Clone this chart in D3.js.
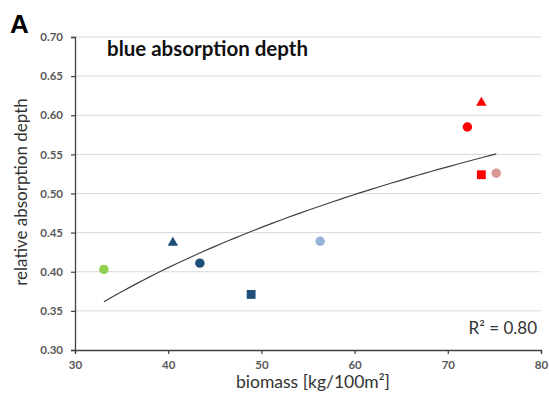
<!DOCTYPE html>
<html>
<head>
<meta charset="utf-8">
<script src="https://cdn.jsdelivr.net/npm/d3@7"></script>
<style>
  html, body { margin: 0; padding: 0; background: #fff; }
  svg { display: block; }
  text { font-family: Lato, "Open Sans", "Liberation Sans", sans-serif; }
</style>
</head>
<body>
<svg id="chart" width="549" height="396"></svg>
<script>
// Biomass per plot and relative depth of the blue absorption feature
const biomass = [33.1, 40.5, 43.4, 48.9, 56.3, 72.1, 73.6, 73.6, 75.2];
const depth   = [0.403, 0.437, 0.411, 0.371, 0.439, 0.585, 0.616, 0.524, 0.526];
const shapes  = ["circle", "triangle", "circle", "square", "circle", "circle", "triangle", "square", "circle"];
const colors  = ["#92d050", "#1f4e79", "#1f4e79", "#1f4e79", "#95b3d7", "#ff0000", "#ff0000", "#ff0000", "#d99694"];

const xTicks = [30, 40, 50, 60, 70, 80];
const yTicks = [0.30, 0.35, 0.40, 0.45, 0.50, 0.55, 0.60, 0.65, 0.70];
const rSquaredLabel = "R² = 0.80";

const svg = d3.select("#chart");
const plotLeft = 75, plotRight = 541, plotTop = 37, plotBottom = 350;

const x = d3.scaleLinear().domain([30, 80]).range([plotLeft, plotRight]);
const y = d3.scaleLinear().domain([0.30, 0.70]).range([plotBottom, plotTop]);

// horizontal gridlines
svg.append("g")
  .selectAll("line")
  .data(yTicks.slice(1))
  .join("line")
  .attr("x1", plotLeft).attr("x2", plotRight)
  .attr("y1", d => y(d)).attr("y2", d => y(d))
  .attr("stroke", "#d9d9d9").attr("stroke-width", 1);

// axes
const xAxis = svg.append("g")
  .attr("transform", `translate(0,${plotBottom})`)
  .call(d3.axisBottom(x).tickValues(xTicks).tickFormat(d3.format("d")).tickSizeOuter(0).tickSize(4).tickPadding(7));
const yAxis = svg.append("g")
  .attr("transform", `translate(${plotLeft},0)`)
  .call(d3.axisLeft(y).tickValues(yTicks).tickFormat(d3.format(".2f")).tickSizeOuter(0).tickSize(4).tickPadding(8));

[xAxis, yAxis].forEach(g => {
  g.select(".domain").attr("stroke", "#404040").attr("stroke-width", 1.3);
  g.selectAll(".tick line").attr("stroke", "#404040").attr("stroke-width", 1.2);
  g.selectAll(".tick text")
    .attr("fill", "#595959")
    .style("font-size", "11.5px")
    .style("font-weight", "bold")
    .style("font-family", "Lato, 'Open Sans', sans-serif");
});

// logarithmic least-squares trend: depth = a + b * ln(biomass)
const lx = biomass.map(Math.log);
const mx = d3.mean(lx), my = d3.mean(depth);
const b = d3.sum(lx, (v, i) => (v - mx) * (depth[i] - my)) / d3.sum(lx, v => (v - mx) * (v - mx));
const a = my - b * mx;
const [xmin, xmax] = d3.extent(biomass);
const curveXs = d3.range(0, 61).map(i => xmin + (xmax - xmin) * i / 60);
svg.append("path")
  .datum(curveXs)
  .attr("fill", "none")
  .attr("stroke", "#404040")
  .attr("stroke-width", 1.2)
  .attr("d", d3.line().x(d => x(d)).y(d => y(a + b * Math.log(d))));

// markers
const symbolType = { circle: d3.symbolCircle, square: d3.symbolSquare, triangle: d3.symbolTriangle };
const symbolSize = { circle: 70, square: 78, triangle: 48 };
svg.append("g")
  .selectAll("path")
  .data(biomass.map((v, i) => ({ v, d: depth[i], s: shapes[i], c: colors[i] })))
  .join("path")
  .attr("transform", p => `translate(${x(p.v)},${y(p.d)})`)
  .attr("d", p => d3.symbol().type(symbolType[p.s]).size(symbolSize[p.s])())
  .attr("fill", p => p.c);

// texts
svg.append("text")
  .attr("x", 10).attr("y", 33)
  .style("font-size", "26px").style("font-weight", "bold")
  .style("font-family", "'Liberation Sans', Arial, sans-serif")
  .attr("fill", "#000").text("A");

svg.append("text")
  .attr("x", 107).attr("y", 56)
  .style("font-size", "20.5px").style("font-weight", "bold")
  .attr("fill", "#111").text("blue absorption depth");

svg.append("text")
  .attr("x", 537).attr("y", 334)
  .attr("text-anchor", "end")
  .style("font-size", "17px")
  .attr("fill", "#333").text(rSquaredLabel);

svg.append("text")
  .attr("x", 313).attr("y", 388)
  .attr("text-anchor", "middle")
  .style("font-size", "17.5px")
  .attr("fill", "#333").text("biomass [kg/100m²]");

svg.append("text")
  .attr("transform", `translate(27,192) rotate(-90)`)
  .attr("text-anchor", "middle")
  .style("font-size", "17px")
  .attr("fill", "#333").text("relative absorption depth");
</script>
</body>
</html>
